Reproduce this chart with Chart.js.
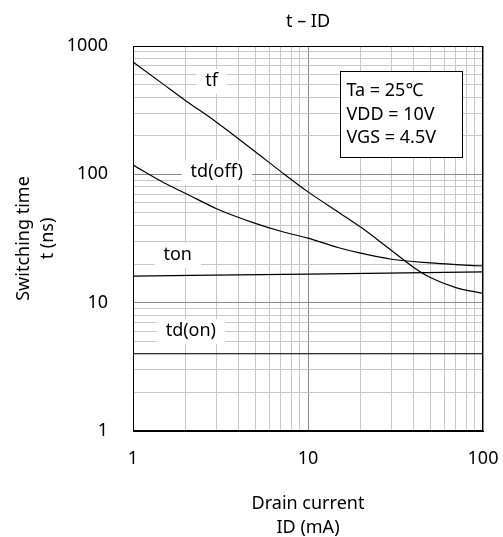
<!DOCTYPE html>
<html>
<head>
<meta charset="utf-8">
<script src="https://cdn.jsdelivr.net/npm/chart.js@4/dist/chart.umd.min.js"></script>
<style>
	html, body { margin: 0; padding: 0; background: #fff; }
	canvas { display: block; }
</style>
</head>
<body>
<canvas id="chart" width="503" height="537"></canvas>
<script>
(function () {
	'use strict';

	// Drain current ID (mA) sample points
	var idTf = [1, 1.5, 2, 3, 5, 7, 10, 15, 20, 30, 40, 50, 70, 100];
	var tf = [750, 500, 375, 255, 150, 105, 73, 50.5, 38.8, 25.5, 18.9, 15.7, 13.1, 11.8];

	var idTdOff = [1, 1.5, 2, 3, 5, 7, 10, 15, 20, 30, 50, 70, 100];
	var tdOff = [118, 86, 71, 54, 41.5, 36, 31.8, 26.8, 24.3, 21.8, 20.4, 19.8, 19.3];

	var idTon = [1, 10, 100];
	var ton = [16.1, 16.7, 17.4];

	var idTdOn = [1, 100];
	var tdOn = [4, 4];

	var xTicks = [1, 2, 3, 4, 5, 6, 7, 8, 9, 10, 20, 30, 40, 50, 60, 70, 80, 90, 100];
	var yTicks = [1, 2, 3, 4, 5, 6, 7, 8, 9, 10, 20, 30, 40, 50, 60, 70, 80, 90,
		100, 200, 300, 400, 500, 600, 700, 800, 900, 1000];

	// curve name labels, placed in data coordinates
	var curveLabels = ['tf', 'td(off)', 'ton', 'td(on)'];
	var curveLabelX = [2.81, 3.01, 1.8, 2.14];
	var curveLabelY = [534, 105, 23.5, 6.0];

	var conditionLines = ['Ta = 25\u2103', 'VDD = 10V', 'VGS = 4.5V'];

	var fontFamily = '"Noto Sans", "Noto Sans CJK JP", sans-serif';

	var isDecade = function (v) {
		var l = Math.log10(v);
		return Math.abs(l - Math.round(l)) < 1e-9;
	};

	var toPoints = function (xs, ys) {
		return xs.map(function (x, i) {
			return {x: x, y: ys[i]};
		});
	};

	var lineSet = function (label, xs, ys) {
		return {
			label: label,
			data: toPoints(xs, ys),
			borderColor: '#000',
			borderWidth: 1.2,
			pointRadius: 0,
			fill: false,
			cubicInterpolationMode: 'monotone'
		};
	};

	var gridColor = function (ctx) {
		if (ctx.tick && isDecade(ctx.tick.value)) {
			return '#8a8a8a';
		}
		return '#c8c8c8';
	};

	var annotations = {
		id: 'annotations',
		afterDatasetsDraw: function (chart) {
			var c = chart.ctx,
				xs = chart.scales.x,
				ys = chart.scales.y,
				area = chart.chartArea;

			c.save();
			c.font = '18px ' + fontFamily;
			c.textBaseline = 'middle';
			c.textAlign = 'center';

			curveLabels.forEach(function (text, i) {
				var px = xs.getPixelForValue(curveLabelX[i]),
					py = ys.getPixelForValue(curveLabelY[i]),
					w = c.measureText(text).width;
				c.fillStyle = '#fff';
				c.fillRect(px - w / 2 - 9, py - 12, w + 18, 25);
				c.fillStyle = '#000';
				c.fillText(text, px, py);
			});

			// conditions box
			var bx = Math.round(xs.getPixelForValue(15.3)) + 0.5,
				by = Math.round(ys.getPixelForValue(644)) + 0.5,
				bw = 122,
				bh = 86;
			c.fillStyle = '#fff';
			c.fillRect(bx, by, bw, bh);
			c.strokeStyle = '#000';
			c.lineWidth = 1;
			c.strokeRect(bx, by, bw, bh);
			c.fillStyle = '#000';
			c.textAlign = 'left';
			conditionLines.forEach(function (text, i) {
				c.fillText(text, bx + 6, by + 19.5 + i * 23.6);
			});

			// plot frame
			c.strokeRect(Math.round(area.left) + 0.5, Math.round(area.top) + 0.5,
				Math.round(area.right - area.left) - 1, Math.round(area.bottom - area.top) - 1);
			c.restore();
		}
	};

	new Chart(document.getElementById('chart'), {
		type: 'line',
		data: {
			datasets: [
				lineSet('tf', idTf, tf),
				lineSet('td(off)', idTdOff, tdOff),
				lineSet('ton', idTon, ton),
				lineSet('td(on)', idTdOn, tdOn)
			]
		},
		options: {
			responsive: false,
			animation: false,
			events: [],
			layout: {
				padding: {left: 0, right: 20, top: 0, bottom: 0}
			},
			plugins: {
				legend: {display: false},
				tooltip: {enabled: false},
				title: {
					display: true,
					text: 't \u2013 ID',
					fullSize: false,
					color: '#000',
					font: {family: fontFamily, size: 18, weight: 'normal'},
					padding: {top: 10.7, bottom: 13.7}
				}
			},
			scales: {
				x: {
					type: 'logarithmic',
					min: 1,
					max: 100,
					afterBuildTicks: function (scale) {
						scale.ticks = xTicks.map(function (v) {
							return {value: v};
						});
					},
					afterFit: function (scale) {
						scale.height = 106;
						// label overhang is covered by the layout padding
						scale.paddingLeft = 0;
						scale.paddingRight = 0;
					},
					ticks: {
						autoSkip: false,
						maxRotation: 0,
						padding: 17,
						color: '#000',
						font: {family: fontFamily, size: 18},
						callback: function (v) {
							return isDecade(v) ? String(v) : '';
						}
					},
					grid: {
						color: gridColor,
						lineWidth: 1,
						drawTicks: false
					},
					border: {color: '#000', width: 1},
					title: {
						display: true,
						text: ['Drain current', 'ID (mA)'],
						color: '#000',
						font: {family: fontFamily, size: 18, lineHeight: 1.33},
						padding: {top: 0, bottom: -3}
					}
				},
				y: {
					type: 'logarithmic',
					min: 1,
					max: 1000,
					afterBuildTicks: function (scale) {
						scale.ticks = yTicks.map(function (v) {
							return {value: v};
						});
					},
					afterFit: function (scale) {
						scale.width = 133;
					},
					ticks: {
						autoSkip: false,
						padding: 25,
						color: '#000',
						font: {family: fontFamily, size: 18},
						callback: function (v) {
							return isDecade(v) ? String(v) : '';
						}
					},
					grid: {
						color: gridColor,
						lineWidth: 1,
						drawTicks: false
					},
					border: {color: '#000', width: 1},
					title: {
						display: true,
						text: ['Switching time', 't (ns)'],
						color: '#000',
						font: {family: fontFamily, size: 18, lineHeight: 1.33},
						padding: {top: 12, bottom: 0}
					}
				}
			}
		},
		plugins: [annotations]
	});
})();
</script>
</body>
</html>
